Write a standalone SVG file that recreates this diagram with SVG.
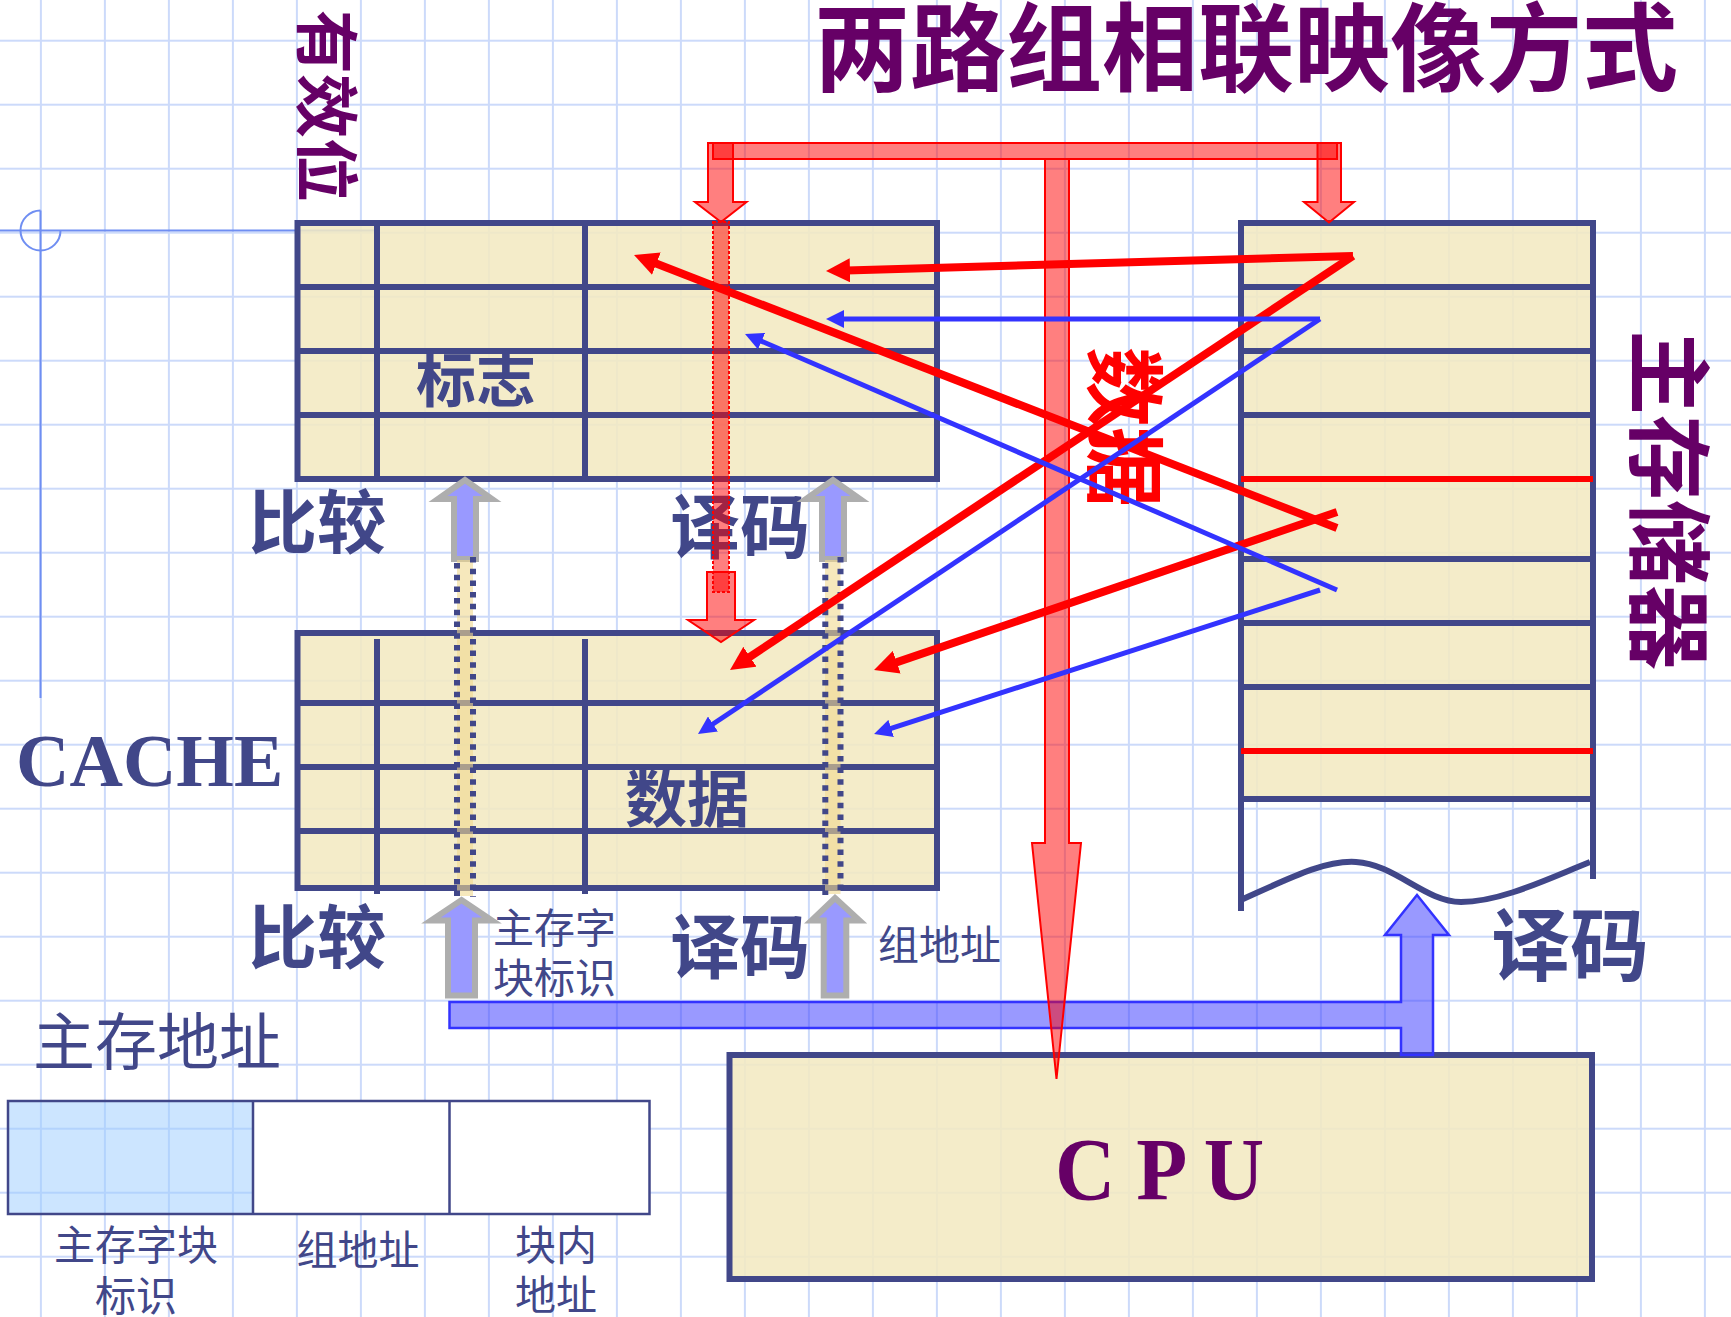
<svg xmlns="http://www.w3.org/2000/svg" width="1731" height="1317" viewBox="0 0 1731 1317">
<style>
.bg{fill:#fff}
.tbl{fill:#F2E9C2;fill-opacity:.88;stroke:#414789;stroke-width:6}
.ln{stroke:#414789;stroke-width:6;fill:none}
.redln{stroke:#FF0000;stroke-width:6;fill:none}
.cross{stroke:#6F8EF2;stroke-width:2;fill:none}
.fat{fill:#FF0000;fill-opacity:.5;stroke:#FF0000;stroke-width:2}
.rl{stroke:#FF0000;stroke-width:8;fill:none;marker-end:url(#ahR)}
.bl{stroke:#3333FF;stroke-width:5;fill:none;marker-end:url(#ahB)}
.ga{fill:#9999FF;stroke:#AEAEAE;stroke-width:6;stroke-linejoin:miter}
.band{fill:#F0D890;fill-opacity:.6}
.dots{stroke:#414789;stroke-width:6;stroke-dasharray:5.5 6.2;fill:none}
.cjk{font-family:"Noto Sans CJK SC","Noto Sans",sans-serif}
.big{font-weight:bold;fill:#414789}
.small{fill:#414789}
.purple{fill:#660066;font-weight:bold}
.serif{font-family:"Liberation Serif","Times New Roman",serif;font-weight:bold}
</style>
<defs>
<pattern id="grid" patternUnits="userSpaceOnUse" x="8.9" y="8.7" width="64" height="64">
<path d="M32,0V64M0,32H64" stroke="#CCDAFA" stroke-width="2" fill="none"/>
</pattern>
<marker id="ahR" markerUnits="userSpaceOnUse" viewBox="0 0 24 24" markerWidth="24" markerHeight="24" refX="12" refY="12" orient="auto">
<path d="M0,0L24,12L0,24z" fill="#FF0000"/>
</marker>
<marker id="ahB" markerUnits="userSpaceOnUse" viewBox="0 0 18 18" markerWidth="18" markerHeight="18" refX="9" refY="9" orient="auto">
<path d="M0,0L18,9L0,18z" fill="#3333FF"/>
</marker>
</defs>
<rect class="bg" width="1731" height="1317"/>
<rect width="1731" height="1317" fill="url(#grid)"/>

<g id="crosshair">
<path class="cross" d="M40.5,210.5A20,20 0 1 0 60.5,230.5"/>
<path class="cross" d="M40.5,210.5V698M0,230.5H377"/>
</g>

<g id="title">
<text class="cjk purple" x="814" y="83" font-size="96">两路组相联映像方式</text>
</g>

<g id="valid-bit-label">
<text class="cjk purple" x="331" y="106" font-size="64" text-anchor="middle" dominant-baseline="central" transform="rotate(90 331 106)">有效位</text>
</g>

<g id="cache-tag">
<rect class="tbl" x="297.5" y="223" width="639.5" height="256"/>
<path class="ln" d="M377,223V479M585,223V479M297.5,287H937M297.5,351H937M297.5,415H937"/>
<text class="cjk big" x="476" y="402" font-size="60" text-anchor="middle">标志</text>
</g>

<g id="cache-data">
<rect class="tbl" x="297.5" y="633" width="639.5" height="255"/>
<path class="ln" d="M377,639V894M585,639V894M297.5,703H937M297.5,767H937M297.5,831H937"/>
<text class="cjk big" x="687" y="822" font-size="62" text-anchor="middle">数据</text>
</g>

<g id="cache-label">
<text class="serif" x="16" y="786" font-size="74" fill="#414789">CACHE</text>
</g>

<g id="main-memory">
<rect x="1241" y="223" width="352" height="576" fill="#F2E9C2" fill-opacity=".88"/>
<path class="ln" d="M1241,911V223H1593V879"/>
<path class="ln" d="M1241,287H1593M1241,351H1593M1241,415H1593M1241,559H1593M1241,623H1593M1241,687H1593M1241,799H1593"/>
<path class="redln" d="M1241,479H1593M1241,751H1593"/>
<path class="ln" stroke-width="5" d="M1241,900C1290,878 1325,860 1356,862C1395,864 1425,902 1461,902C1500,902 1545,880 1590,862"/>
</g>

<g id="main-memory-label">
<text class="cjk purple" x="1674" y="500" font-size="85" text-anchor="middle" dominant-baseline="central" transform="rotate(90 1674 500)">主存储器</text>
</g>

<g id="cpu">
<rect x="729.5" y="1055" width="862.5" height="224" fill="#F2E9C2" fill-opacity=".88" stroke="#414789" stroke-width="6"/>
<text class="serif" x="1055" y="1199" font-size="89" fill="#660066" textLength="209" lengthAdjust="spacingAndGlyphs">C P U</text>
</g>

<g id="labels">
<text class="cjk big" x="317" y="548" font-size="69" text-anchor="middle">比较</text>
<text class="cjk big" x="317" y="963" font-size="69" text-anchor="middle">比较</text>
<text class="cjk big" x="740" y="553" font-size="70" text-anchor="middle">译码</text>
<text class="cjk big" x="740" y="973" font-size="70" text-anchor="middle">译码</text>
<text class="cjk big" x="1570" y="975" font-size="79" text-anchor="middle">译码</text>
<text class="cjk small" x="493" y="943" font-size="41">主存字</text>
<text class="cjk small" x="493" y="993" font-size="41">块标识</text>
<text class="cjk small" x="878" y="960" font-size="41">组地址</text>
</g>

<g id="address-format">
<text class="cjk small" x="33" y="1065" font-size="62">主存地址</text>
<rect x="8" y="1101" width="245" height="113" fill="#99CCFF" fill-opacity=".5"/>
<rect x="253" y="1101" width="396.5" height="113" fill="#fff"/>
<rect x="8" y="1101" width="641.5" height="113" fill="none" stroke="#414789" stroke-width="2.5"/>
<path d="M253,1101V1214M449.5,1101V1214" stroke="#414789" stroke-width="2.5"/>
<text class="cjk small" x="136" y="1260" font-size="41" text-anchor="middle">主存字块</text>
<text class="cjk small" x="136" y="1311" font-size="41" text-anchor="middle">标识</text>
<text class="cjk small" x="358" y="1265" font-size="41" text-anchor="middle">组地址</text>
<text class="cjk small" x="515" y="1260" font-size="41">块内</text>
<text class="cjk small" x="515" y="1310" font-size="41">地址</text>
</g>

<g id="connectors">
<path id="bus" d="M449.5,1002H1401V935H1385L1417,895L1449,935H1433V1055H1401V1028H449.5Z" fill="#3333FF" fill-opacity=".5" stroke="#3333FF" stroke-width="2.5"/>
<polygon class="ga" points="465,480 492,499 476,499 476,559 454,559 454,499 438,499"/>
<polygon class="ga" points="833,480 860,499 844,499 844,559 822,559 822,499 806,499"/>
<polygon class="ga" points="461.5,900 492,920.5 475,920.5 475,995.5 448,995.5 448,920.5 431,920.5"/>
<polygon class="ga" points="835,898 859.5,920.5 846.3,920.5 846.3,995.5 823.7,995.5 823.7,920.5 811.5,920.5"/>
<rect class="band" x="457" y="560" width="16" height="336"/>
<rect class="band" x="825" y="560" width="15.5" height="334"/>
<path class="dots" d="M457,563V897"/>
<path class="dots" d="M473,557V897"/>
<path class="dots" d="M825.3,563V895"/>
<path class="dots" d="M840.5,557V895"/>
<rect class="fat" x="713" y="143" width="624" height="16"/>
<polygon class="fat" points="708,143 733,143 733,202 746.5,202 721,222 695,202 708,202"/>
<polygon class="fat" points="1317.5,143 1341,143 1341,202 1354,202 1329,222.5 1304,202 1317.5,202"/>
<polygon class="fat" points="1045,159 1069,159 1069,843 1081,843 1056.5,1079 1032,843 1045,843"/>
<rect class="fat" x="713" y="222" width="16" height="370" stroke-dasharray="3 2" stroke-width="1.5"/>
<polygon class="fat" stroke-width="5" points="707,572 735,572 735,620 754,620 721,642 688,620 707,620"/>
<text class="cjk" x="1130" y="427" font-size="80" font-weight="bold" fill="#FF0000" text-anchor="middle" dominant-baseline="central" transform="rotate(90 1130 427)">数据</text>
<path class="rl" d="M1353,256L838,270.7"/>
<path class="rl" d="M1353,256L740,663.4"/>
<path class="rl" d="M1337,528L645.2,259.3"/>
<path class="rl" d="M1337,512L885.4,666.1"/>
<path class="bl" d="M1320,319L835,319"/>
<path class="bl" d="M1320,319L705.5,729"/>
<path class="bl" d="M1337,590L753.3,337.6"/>
<path class="bl" d="M1320,590L882.6,731.2"/>
</g>
</svg>
